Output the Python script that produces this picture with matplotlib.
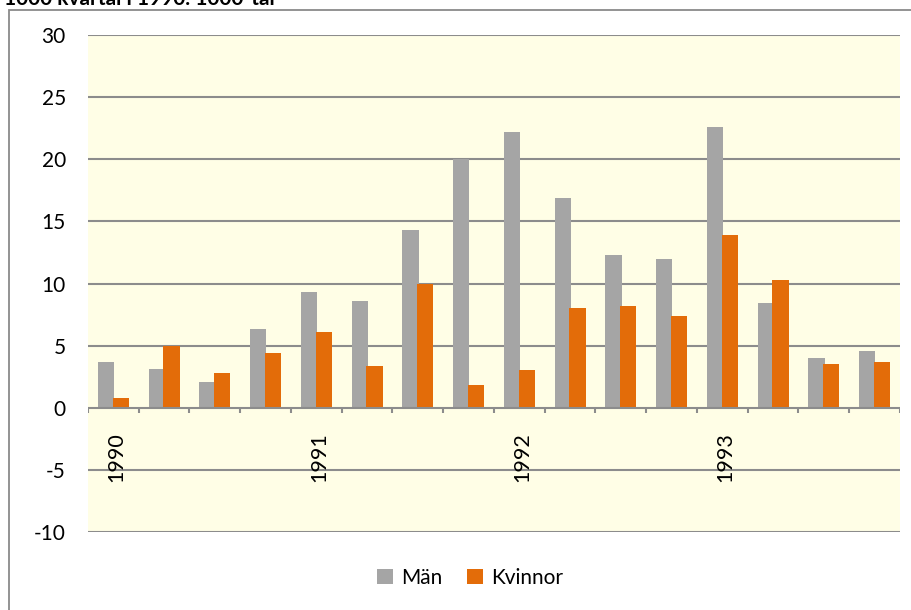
import numpy as np
import matplotlib.pyplot as plt
from matplotlib.patches import Rectangle

plt.rcParams['font.family'] = ['Lato', 'DejaVu Sans']
plt.rcParams['axes.unicode_minus'] = False

# Kvartal 1990-1993
kvartal = np.arange(16)
ar_etiketter = ['1990', '1991', '1992', '1993']
ar_positioner = [0, 4, 8, 12]

man = [3.7, 3.1, 2.1, 6.3, 9.3, 8.6, 14.3, 20.0,
       22.2, 16.9, 12.3, 12.0, 22.6, 8.4, 4.0, 4.6]
kvinnor = [0.8, 5.0, 2.8, 4.4, 6.1, 3.4, 10.0, 1.8,
           3.0, 8.0, 8.2, 7.4, 13.9, 10.3, 3.5, 3.7]

W, H = 912, 610
fig = plt.figure(figsize=(W / 100, H / 100), dpi=100)
fig.patch.set_facecolor('white')

# ram runt diagrammet
fig.patches.append(Rectangle((9 / W, -0.1), 1.2, 1.1 - 10 / H, transform=fig.transFigure,
                             fill=False, edgecolor='#8a8a8a', linewidth=1.3))

# avklippt rubrik (som i originalet)
fig.text(0.004, 1 - 5 / H, '1000 kvartal i 1990. 1000-tal', fontsize=15,
         fontweight='bold', color='black', va='baseline', ha='left')

ax = fig.add_axes([88 / W, (H - 532) / H, (900 - 88) / W, (532 - 35) / H])
ax.set_facecolor('#fffee6')

grid_c = '#8c8c8c'
for y in [-10, -5, 5, 10, 15, 20, 25, 30]:
    ax.axhline(y, color=grid_c, linewidth=1.5, zorder=1)

bw = 0.32
ax.bar(kvartal - 0.145, man, width=bw, color='#a5a5a5', zorder=2, label='Män')
ax.bar(kvartal + 0.145, kvinnor, width=bw, color='#e36c09', zorder=3, label='Kvinnor')

# x-axel vid noll med streck mellan kvartalen
ax.axhline(0, color=grid_c, linewidth=1.5, zorder=4)
ax.vlines(np.arange(17) - 0.5, -0.45, 0, color=grid_c, linewidth=1.5, zorder=4)

for pos, lab in zip(ar_positioner, ar_etiketter):
    ax.text(pos + 0.05, -1.95, lab, rotation=90, ha='center', va='top', fontsize=15.5)

ax.set_xlim(-0.5, 15.5)
ax.set_ylim(-10, 30)
ax.set_yticks(range(-10, 31, 5))
ax.set_xticks([])
ax.tick_params(axis='y', length=0, pad=16, labelsize=15)
for s in ax.spines.values():
    s.set_visible(False)

fig.legend(loc='center', bbox_to_anchor=(470 / W, 1 - 578 / H), ncol=2, frameon=False,
           fontsize=15, handlelength=0.75, handleheight=0.75, handletextpad=0.4,
           columnspacing=1.2)

fig.savefig('out.png', dpi=100)
